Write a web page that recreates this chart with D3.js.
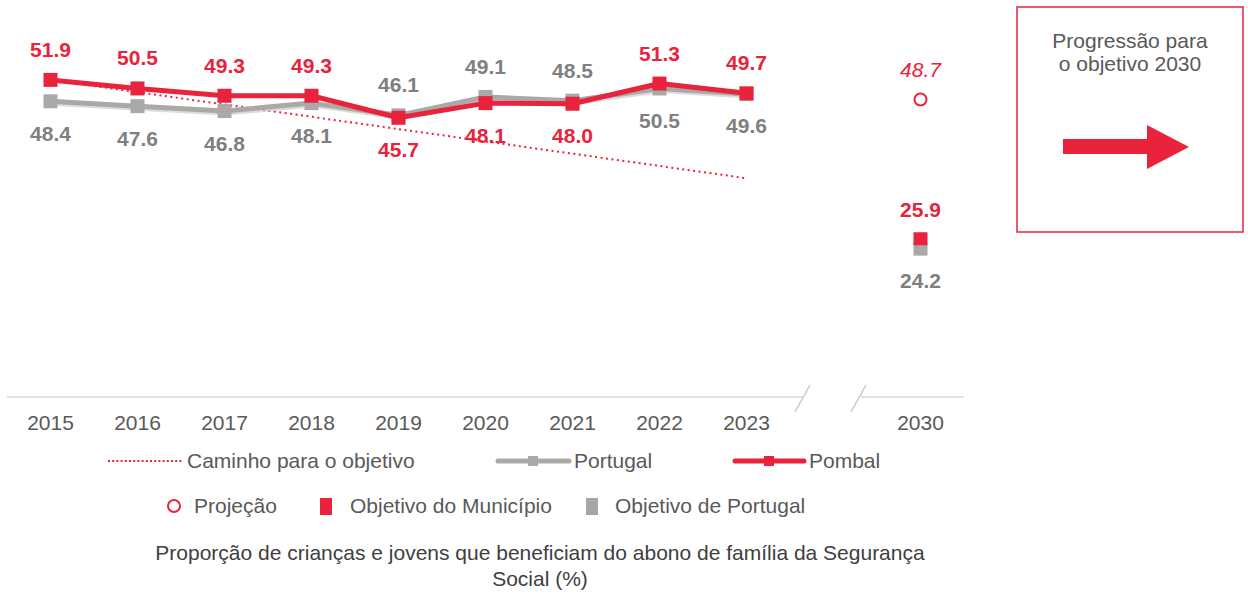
<!DOCTYPE html>
<html lang="pt">
<head>
<meta charset="UTF-8">
<title>Abono de família</title>
<script src="https://d3js.org/d3.v7.min.js"></script>
<style>
  body { margin: 0; background: #fff; font-family: "Liberation Sans", Arial, sans-serif; }
  svg { display: block; }
</style>
</head>
<body>
<svg id="chart" width="1248" height="594"></svg>
<script>
// dados
const years = ["2015", "2016", "2017", "2018", "2019", "2020", "2021", "2022", "2023"];
const pombal = [51.9, 50.5, 49.3, 49.3, 45.7, 48.1, 48.0, 51.3, 49.7];
const portugal = [48.4, 47.6, 46.8, 48.1, 46.1, 49.1, 48.5, 50.5, 49.6];
const pombalLabelTop = [true, true, true, true, false, false, false, true, true];
const portugalLabelTop = [false, false, false, false, true, true, true, false, false];
const caminhoYears = ["2015", "2023"];
const caminho = [51.9, 35.8];
const targetYear = "2030";
const projecao = 48.7;
const objetivoMunicipio = 25.9;
const objetivoPortugal = 24.2;

const RED = "#E8233B", GREY = "#ABA8A8", GREY_TXT = "#7F7F7F", TXT = "#595959";
const FS = 21;

const svg = d3.select("#chart");

const x = d3.scaleBand()
  .domain([...years, "gap", targetYear])
  .range([7, 964])
  .padding(0);
const cx = d => x(d) + x.bandwidth() / 2;
const y = d3.scaleLinear().domain([0, 60]).range([397, 30.4]);

// eixo
const axisG = svg.append("g").attr("transform", "translate(0,397)")
  .call(d3.axisBottom(x).tickSize(0).tickPadding(18)
    .tickValues([...years, targetYear]));
axisG.select(".domain").remove();
axisG.selectAll("text")
  .style("font-family", "'Liberation Sans', Arial, sans-serif")
  .style("font-size", FS + "px").attr("fill", TXT);

const axisLine = svg.append("g").attr("stroke", "#D9D9D9").attr("stroke-width", 1.5);
axisLine.append("line").attr("x1", 7).attr("x2", 804).attr("y1", 397).attr("y2", 397);
axisLine.append("line").attr("x1", 861).attr("x2", 964).attr("y1", 397).attr("y2", 397);
axisLine.append("line").attr("x1", 795).attr("x2", 810).attr("y1", 412).attr("y2", 385).attr("stroke", "#C8C8C8");
axisLine.append("line").attr("x1", 851).attr("x2", 866).attr("y1", 412).attr("y2", 385).attr("stroke", "#C8C8C8");

// caminho para o objetivo
svg.append("path")
  .datum(caminhoYears.map((yr, i) => [cx(yr), y(caminho[i])]))
  .attr("d", d3.line())
  .attr("fill", "none").attr("stroke", RED).attr("stroke-width", 2)
  .attr("stroke-dasharray", "2,3.5");

const line = d3.line().x((d, i) => cx(years[i])).y(d => y(d));

function drawSeries(vals, color, shadow) {
  if (shadow) {
    svg.append("path").datum(vals).attr("d", line)
      .attr("transform", "translate(1,2)")
      .attr("fill", "none").attr("stroke", "#CFCDCD").attr("stroke-width", 5).attr("opacity", 0.7);
  }
  svg.append("path").datum(vals).attr("d", line)
    .attr("fill", "none").attr("stroke", color).attr("stroke-width", 5)
    .attr("stroke-linejoin", "round");
  svg.append("g").selectAll("rect").data(vals).join("rect")
    .attr("x", (d, i) => cx(years[i]) - 7).attr("y", d => y(d) - 7)
    .attr("width", 14).attr("height", 14).attr("fill", color);
}
drawSeries(portugal, GREY, true);
drawSeries(pombal, RED, false);

function labels(vals, top, color) {
  svg.append("g").selectAll("text").data(vals).join("text")
    .attr("x", (d, i) => cx(years[i]))
    .attr("y", (d, i) => top[i] ? y(d) - 23 : y(d) + 39.5)
    .attr("text-anchor", "middle")
    .attr("font-size", FS).attr("font-weight", "bold").attr("fill", color)
    .text(d => d.toFixed(1));
}
labels(portugal, portugalLabelTop, GREY_TXT);
labels(pombal, pombalLabelTop, RED);

// 2030
const x30 = cx(targetYear);
svg.append("circle").attr("cx", x30).attr("cy", y(projecao)).attr("r", 6)
  .attr("fill", "#fff").attr("stroke", RED).attr("stroke-width", 2);
svg.append("text").attr("x", x30).attr("y", y(projecao) - 22.5)
  .attr("text-anchor", "middle").attr("font-size", FS).attr("font-style", "italic")
  .attr("fill", RED).text(projecao.toFixed(1));
svg.append("rect").attr("x", x30 - 7).attr("y", y(objetivoPortugal) - 6.5)
  .attr("width", 14).attr("height", 13).attr("fill", GREY);
svg.append("rect").attr("x", x30 - 7).attr("y", y(objetivoMunicipio) - 6.5)
  .attr("width", 14).attr("height", 13).attr("fill", RED);
svg.append("text").attr("x", x30).attr("y", y(objetivoMunicipio) - 22)
  .attr("text-anchor", "middle").attr("font-size", FS).attr("font-weight", "bold")
  .attr("fill", RED).text(objetivoMunicipio.toFixed(1));
svg.append("text").attr("x", x30).attr("y", y(objetivoPortugal) + 39)
  .attr("text-anchor", "middle").attr("font-size", FS).attr("font-weight", "bold")
  .attr("fill", GREY_TXT).text(objetivoPortugal.toFixed(1));

// legenda
const leg = svg.append("g").attr("font-size", FS).attr("fill", TXT);
leg.append("line").attr("x1", 108).attr("x2", 182).attr("y1", 461).attr("y2", 461)
  .attr("stroke", RED).attr("stroke-width", 2).attr("stroke-dasharray", "2,2.2");
leg.append("text").attr("x", 187).attr("y", 468).text("Caminho para o objetivo");
leg.append("line").attr("x1", 498).attr("x2", 569).attr("y1", 461).attr("y2", 461)
  .attr("stroke", GREY).attr("stroke-width", 5).attr("stroke-linecap", "round");
leg.append("rect").attr("x", 528).attr("y", 456).attr("width", 10).attr("height", 10).attr("fill", GREY);
leg.append("text").attr("x", 574).attr("y", 468).text("Portugal");
leg.append("line").attr("x1", 735).attr("x2", 804).attr("y1", 461).attr("y2", 461)
  .attr("stroke", RED).attr("stroke-width", 5).attr("stroke-linecap", "round");
leg.append("rect").attr("x", 764).attr("y", 456).attr("width", 10).attr("height", 10).attr("fill", RED);
leg.append("text").attr("x", 809).attr("y", 468).text("Pombal");

leg.append("circle").attr("cx", 174).attr("cy", 506).attr("r", 6)
  .attr("fill", "#fff").attr("stroke", RED).attr("stroke-width", 2);
leg.append("text").attr("x", 194).attr("y", 513).text("Projeção");
leg.append("rect").attr("x", 320).attr("y", 498).attr("width", 12).attr("height", 17).attr("fill", RED);
leg.append("text").attr("x", 350).attr("y", 513).text("Objetivo do Município");
leg.append("rect").attr("x", 586).attr("y", 498).attr("width", 12).attr("height", 17).attr("fill", "#A6A6A6");
leg.append("text").attr("x", 615).attr("y", 513).text("Objetivo de Portugal");

// título
const title = svg.append("text").attr("text-anchor", "middle").attr("font-size", FS).attr("fill", "#404040");
title.append("tspan").attr("x", 540).attr("y", 560)
  .text("Proporção de crianças e jovens que beneficiam do abono de família da Segurança");
title.append("tspan").attr("x", 540).attr("y", 586).text("Social (%)");

// caixa de progressão
const box = svg.append("g");
box.append("rect").attr("x", 1017).attr("y", 7).attr("width", 226).attr("height", 225)
  .attr("fill", "#fff").attr("stroke", RED).attr("stroke-width", 1.5);
const bt = box.append("text").attr("text-anchor", "middle").attr("font-size", FS).attr("fill", TXT);
bt.append("tspan").attr("x", 1130).attr("y", 48).text("Progressão para");
bt.append("tspan").attr("x", 1130).attr("y", 71).text("o objetivo 2030");
box.append("path")
  .attr("d", "M1063,139 L1147,139 L1147,125 L1189,147 L1147,169 L1147,154 L1063,154 Z")
  .attr("fill", RED);
</script>
</body>
</html>
